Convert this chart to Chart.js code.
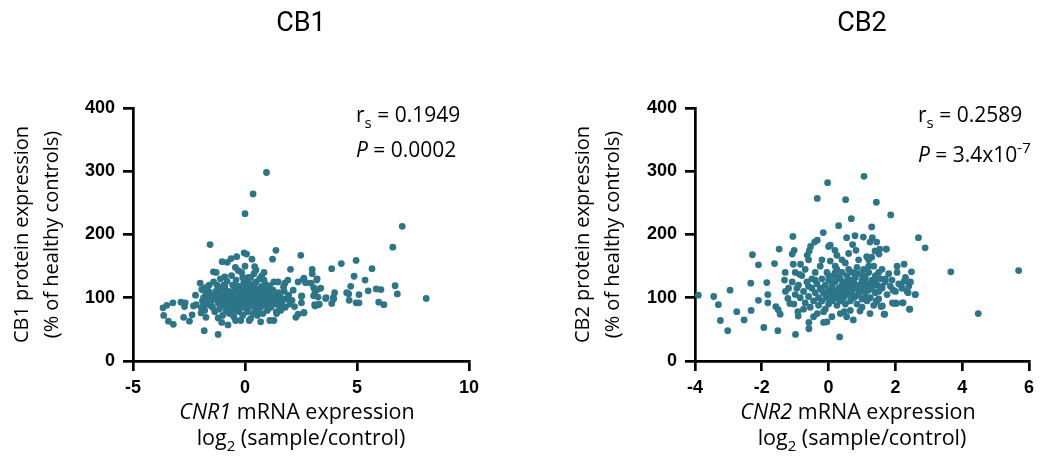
<!DOCTYPE html>
<html>
<head>
<meta charset="utf-8">
<script src="https://cdn.jsdelivr.net/npm/chart.js@4.4.1/dist/chart.umd.min.js"></script>
<style>
  html, body { margin: 0; padding: 0; background: #fff; }
  #wrap { position: relative; width: 1040px; height: 465px; }
  .panel { position: absolute; top: 0; height: 465px; }
</style>
</head>
<body>
<div id="wrap">
  <div class="panel" style="left:0;width:540px"><canvas id="cb1"></canvas></div>
  <div class="panel" style="left:561px;width:479px"><canvas id="cb2"></canvas></div>
</div>
<script>
// Values (log2 mRNA ratio vs protein % of controls).
const CB1_MRNA = [
  0.96, 0.36, 0, -1.56, 7.02, 6.6, 8.09, 1.38, 2.49, 1.23, 2.03, 3.0, 3.87, 4.3, 4.96, 5.67, 3.0, 4.87, 5.36, 4.72,
  5.5, 5.86, 6.07, 6.7, 6.8, 5.09, 4.96, 5.09, 4.63, 4.65, 5.97, 6.2, 4.0, 3.87, 3.96, 3.6, 3.26, 3.23, 3.2, 2.94,
  3.07, 3.11, 3.28, 2.52, 2.52, 2.21, 2.27, 2.37, 2.63, 1.91, 2.37, 2.6, 2.7, 1.48, 1.78, 1.72,
  -3.66, -3.49, -3.22, -3.63, -3.42, -3.2, -2.86, -2.7, -2.67, -2.74, -2.48, -2.36, -2.3, -2.18, -2.21, -2.0, -1.93, -1.82, -1.2, -1.96,
  -1.74, -1.85, -1.68, -1.59, -1.04, -0.76, -1.41, -1.29, -1.02, -0.79, -0.62, -0.37, -0.04, 0.07, 0.31, 0.43, 0.49, -0.43, -0.3, -0.9,
  0.74, 1.11, 1.29, -0.42, -0.19, 0.19, 0.25, 0.7, 1.11, 1.29, 1.41, 1.59, 1.7,
  2.63, 3.22, 2.72, 3.38, 3.13, 3.06, 3.62, 2.53, 3.13, 3.32, 2.63, 3.94, 4.54,
  -1.5, -1.4, -1.45, -1.3, -1.35, -1.2, -1.25, -1.1, -1.15, -1.05, -1.0, -1.0, -1.1, -1.2,
  -0.95, -0.9, -0.9, -0.85, -0.8, -0.8, -0.75, -0.7, -0.7, -0.65, -0.6, -0.6, -0.55, -0.55, -0.5, -0.5, -0.45, -0.45,
  -0.4, -0.4, -0.35, -0.3, -0.3, -0.25, -0.25, -0.2, -0.2, -0.15, -0.15, -0.1, -0.1, -0.05, -0.05, 0, 0, 0, 0,
  0.05, 0.05, 0.1, 0.1, 0.15, 0.15, 0.2, 0.2, 0.25, 0.25, 0.3, 0.3, 0.35, 0.35, 0.4, 0.4, 0.45, 0.45, 0.5, 0.5,
  0.55, 0.55, 0.6, 0.6, 0.65, 0.65, 0.7, 0.7, 0.75, 0.75, 0.8, 0.8, 0.85, 0.85, 0.9, 0.9, 0.95, 0.95, 1.0, 1.0, 1.0,
  1.05, 1.1, 1.15, 1.2, 1.25, 1.3, 1.35, 1.4, 1.45, 1.5, 1.5,
  1.6, 1.65, 1.75, 1.8, 1.85, 1.95, 2.0, 2.1, 2.15,
  -1.9, -1.85, -1.8, -1.75, -1.7, -1.65, -1.6, -1.55, -1.95,
  -1.8, -1.6, -1.4, -1.3, -1.2, -1.1, -0.9, -0.8, -0.7, -0.6, -0.5, -0.4, -0.3, -0.2, -0.1, 0.0, 0.1, 0.2, 0.3, 0.4,
  0.5, 0.6, 0.7, 0.8, 0.9, 1.0, 1.1, 1.2, 1.3, 1.4, -0.35, 0.15, 0.55, 0.85, -0.65, 0.45, 1.15, -0.95, 0.25, 0.65
];
const CB1_PROTEIN = [
  298, 264, 233, 184, 213, 180, 99, 175, 167, 161, 145, 145, 146, 154, 159, 146, 138, 134, 128, 118,
  111, 114, 113, 119, 106, 105, 92, 92, 106, 96, 93, 89, 108, 91, 98, 99, 101, 113, 128, 123,
  116, 89, 89, 102, 92, 86, 69, 74, 76, 128, 125, 129, 124, 125, 123, 117,
  84, 88, 92, 72, 63, 58, 93, 86, 92, 69, 63, 73, 87, 89, 104, 123, 113, 48, 42, 76,
  69, 88, 117, 109, 61, 57, 141, 140, 157, 156, 162, 165, 171, 169, 161, 149, 144, 148, 143, 133,
  134, 119, 125, 64, 64, 64, 67, 62, 64, 64, 75, 80, 85,
  131, 130, 124, 115, 110, 103, 100, 103, 87, 90, 77, 100, 108,
  95, 103, 85, 110, 78, 92, 120, 100, 82, 115, 88, 72, 130, 68,
  105, 95, 118, 80, 100, 126, 90, 110, 75, 98, 135, 85, 104, 120, 92, 70, 112, 82,
  100, 128, 88, 108, 95, 78, 118, 102, 86, 140, 93, 110, 72, 98, 125, 105, 84, 90, 150,
  100, 115, 92, 78, 108, 132, 97, 86, 120, 103, 90, 110, 75, 98, 138, 105, 88, 115, 95, 125,
  102, 80, 112, 90, 130, 98, 85, 108, 118, 95, 100, 75, 110, 140, 92, 122, 88, 104, 98, 115, 80,
  108, 95, 85, 100, 112, 90, 104, 78, 96, 108, 88,
  100, 92, 110, 85, 98, 104, 90, 96, 112,
  95, 100, 80, 108, 90, 98, 120, 88, 84,
  115, 105, 125, 98, 108, 90, 112, 88, 102, 95, 78, 118, 105, 92, 132, 115, 82, 110, 100, 122,
  85, 94, 115, 88, 106, 92, 118, 100, 108, 93, 96, 122, 72, 128, 105, 80, 96, 120, 132, 108
];

const CB2_MRNA = [
  1.06, -0.03, -0.34, 0.51, 1.43, 1.86, 0.68, 0.3, 1.29, -0.16, -1.07, 2.69, 2.89, 3.66, 5.69, 4.48,
  -3.9, -3.44, -3.3, -2.95, -3.24, -3.02, -2.75, -2.53, -2.32, -2.33, -2.28, -2.1, -2.1, -1.94, -1.85, -1.82, -1.82, -1.62, -1.48, -1.58,
  -1.51, -1.45, -1.52, -1.32, -1.29, -1.22, -1.16, -1.04, -1.09, -1.03, -0.99, -0.59, -0.59, -0.92, -0.91, 0.33, -0.54, -0.42, -0.34, -0.64,
  -0.58, 0, 0.05, 0.19, 0.25, 0.54, 0.79, 1.04, 1.31, 1.24, 1.44, 0.72, 0.82, 1.53, 1.73, 1.39, 1.51, 1.14, 1.29, 2.26,
  2.48, 2.05, 2.59, 2.43, 2.38, 2.23, 2.03, 1.95, 1.68, 1.61, 1.44, 2.31, 2.16, 1.93, 1.24, 0.94, 0.74, 0.54, 0.47, -0.15,
  -0.05, -0.34, -1.09, -0.84, -1.06, -0.87, 2.6, 2.42, 2.26, 2.35, 2.21, 2.01, 1.91, 1.66, 1.57, 1.43, 1.72,
  -0.9, -0.85, -0.8, -0.75, -0.7, -0.7, -0.65, -0.6, -0.55, -0.5, -0.5, -0.45, -0.4, -0.4, -0.35, -0.3, -0.3, -0.25, -0.25, -0.2,
  -0.2, -0.15, -0.1, -0.1, -0.05, -0.05, 0, 0, 0, 0.05, 0.05, 0.1, 0.1, 0.15, 0.15, 0.2, 0.2, 0.25, 0.25, 0.3,
  0.3, 0.35, 0.35, 0.4, 0.4, 0.45, 0.45, 0.5, 0.5, 0.5, 0.55, 0.55, 0.6, 0.6, 0.65, 0.65, 0.7, 0.7, 0.75, 0.75,
  0.8, 0.8, 0.85, 0.85, 0.9, 0.9, 0.95, 0.95, 1.0, 1.0, 1.05, 1.05, 1.1, 1.1, 1.15, 1.15, 1.2, 1.2, 1.25, 1.3,
  1.3, 1.35, 1.4, 1.4, 1.45, 1.5, 1.55, 1.6, 1.6, 1.7, 1.75, 1.8, 1.85, 1.9, 2.0, 2.05, 2.1, 2.2, 2.3, 2.4,
  2.45, -1.0, -1.0, -0.95, -1.2, -1.3, -0.6, 0.2, 0.4, 0.9, 1.2, -0.2, 0.6, -0.15, 0.35, 0.1, 0.65, -0.45, 1.0, 1.35,
  -0.75,
  0.1, 0.3, 0.5, 0.7, 0.9, 1.1, 1.3, 1.5, 1.7, 0.2, 0.4, 0.6, 0.8, 1.0, 1.2, 1.4, -0.2, -0.4, -0.6, 0.0,
  0.5, 1.0, 1.5, 0.3, 0.8, 1.3, -0.1, 0.6, 1.1, 1.6
];
const CB2_PROTEIN = [
  292, 282, 257, 255, 251, 231, 225, 214, 212, 203, 197, 195, 179, 141, 143, 75,
  104, 102, 89, 112, 64, 48, 78, 65, 80, 123, 168, 152, 96, 53, 124, 105, 92, 154, 177, 86,
  81, 74, 48, 128, 110, 99, 91, 90, 169, 175, 42, 51, 61, 78, 71, 38, 181, 188, 191, 167,
  174, 181, 183, 175, 167, 195, 198, 196, 195, 188, 188, 184, 175, 177, 177, 174, 169, 165, 164, 153,
  141, 150, 105, 82, 108, 92, 91, 91, 74, 87, 94, 127, 120, 112, 75, 79, 65, 70, 78, 61,
  62, 75, 125, 153, 153, 137, 105, 82, 126, 110, 92, 92, 92, 74, 86, 95, 177,
  120, 100, 135, 110, 92, 145, 125, 102, 85, 130, 115, 95, 140, 108, 122, 88, 100, 150, 115, 130,
  95, 108, 120, 82, 140, 100, 112, 128, 90, 105, 158, 118, 95, 135, 110, 100, 125, 88, 145, 115,
  105, 130, 95, 120, 140, 110, 100, 125, 155, 90, 115, 135, 105, 128, 118, 95, 140, 110, 125, 100,
  132, 115, 90, 148, 120, 105, 138, 112, 125, 98, 145, 118, 108, 130, 95, 122, 140, 112, 100, 128,
  118, 150, 108, 135, 120, 98, 130, 115, 145, 125, 105, 138, 118, 128, 110, 140, 122, 115, 132, 118,
  125, 105, 140, 115, 115, 140, 160, 150, 160, 160, 160, 160, 170, 78, 75, 70, 80, 70, 85, 88,
  82,
  125, 132, 118, 128, 112, 135, 122, 110, 130, 140, 108, 145, 102, 118, 150, 128, 112, 128, 118, 135,
  110, 128, 140, 98, 138, 115, 105, 122, 100, 118
];

const Y_TICKS = [0, 100, 200, 300, 400];
const CB1_X_TICKS = [-5, 0, 5, 10];
const CB2_X_TICKS = [-4, -2, 0, 2, 4, 6];

const BODY_FONT = '"Open Sans", "Noto Sans", sans-serif';
const TICK_FONT = { family: '"Liberation Sans", Arial, sans-serif', size: 18, weight: 'bold' };
const DOT = '#2d7588';

// draw a line made of runs: [text, style] with style '', 'i', 'sub', 'sup'
function drawRuns(ctx, runs, x, y, align, size) {
  const fontFor = st => {
    if (st === 'i') return `italic ${size}px ${BODY_FONT}`;
    if (st === 'sub' || st === 'sup') return `${Math.round(size * 0.72)}px ${BODY_FONT}`;
    return `${size}px ${BODY_FONT}`;
  };
  let total = 0;
  for (const [t, st] of runs) { ctx.font = fontFor(st); total += ctx.measureText(t).width; }
  let cx = align === 'center' ? x - total / 2 : x;
  for (const [t, st] of runs) {
    ctx.font = fontFor(st);
    const dy = st === 'sub' ? size * 0.28 : st === 'sup' ? -size * 0.42 : 0;
    ctx.fillText(t, cx, y + dy);
    cx += ctx.measureText(t).width;
  }
}

const panelText = {
  id: 'panelText',
  afterDraw(chart, args, o) {
    const { ctx, chartArea: a } = chart;
    ctx.save();
    ctx.fillStyle = '#000';
    ctx.textAlign = 'left';
    ctx.textBaseline = 'alphabetic';
    const mid = (a.left + a.right) / 2;
    drawRuns(ctx, o.xTitle[0], mid - 4, 419, 'center', 21.5);
    drawRuns(ctx, o.xTitle[1], mid, 445, 'center', 21.5);
    drawRuns(ctx, o.stats[0], a.left + 223, 122, 'left', 21);
    drawRuns(ctx, o.stats[1], a.left + 223, o.line2Y, 'left', 21);
    ctx.restore();
  }
};

function axisBase(ticks, fit) {
  return {
    type: 'linear',
    min: ticks[0],
    max: ticks[ticks.length - 1],
    afterBuildTicks: s => { s.ticks = ticks.map(v => ({ value: v })); },
    afterFit: fit,
    grid: { drawOnChartArea: false, drawTicks: true, tickLength: 10, color: '#000', lineWidth: 2.7 },
    border: { display: true, color: '#000', width: 2.7 },
    ticks: { color: '#000', font: TICK_FONT, padding: 6, maxRotation: 0, autoSkip: false }
  };
}

function makePanel(id, title, xs, ys, xTicks, yAxisWidth, rightPad, yTitle, xTitle, stats, line2Y) {
  const y = axisBase(Y_TICKS, s => { s.width = yAxisWidth; });
  y.ticks.padding = 8;
  y.title = {
    display: true, text: yTitle, color: '#000',
    font: { family: BODY_FONT, size: 20, lineHeight: 1.5 },
    padding: { top: 7, bottom: 0 }
  };
  return new Chart(document.getElementById(id), {
    type: 'scatter',
    data: {
      datasets: [{
        data: xs.map((v, i) => ({ x: v, y: ys[i] })),
        backgroundColor: DOT, borderWidth: 0, pointRadius: 3.4, pointHoverRadius: 3.4
      }]
    },
    options: {
      responsive: true,
      maintainAspectRatio: false,
      animation: false,
      clip: false,
      layout: { padding: { left: 0, right: rightPad, top: 0, bottom: 0 } },
      plugins: {
        legend: { display: false },
        tooltip: { enabled: false },
        title: {
          display: true, text: title, color: '#000', fullSize: false,
          font: { family: 'Roboto, sans-serif', size: 27, weight: 'normal', lineHeight: 1.2 },
          padding: { top: 7.8, bottom: 67.8 }
        },
        panelText: { xTitle, stats, line2Y }
      },
      scales: {
        x: axisBase(xTicks, s => { s.height = 104; }),
        y
      }
    },
    plugins: [panelText]
  });
}

makePanel('cb1', 'CB1', CB1_MRNA, CB1_PROTEIN, CB1_X_TICKS, 133, 71,
  ['CB1 protein expression', '(% of healthy controls)'],
  [[['CNR1', 'i'], [' mRNA expression', '']], [['log', ''], ['2', 'sub'], [' (sample/control)', '']]],
  [[['r', ''], ['s', 'sub'], [' = 0.1949', '']], [['P', 'i'], [' = 0.0002', '']]],
  157);

makePanel('cb2', 'CB2', CB2_MRNA, CB2_PROTEIN, CB2_X_TICKS, 134, 9,
  ['CB2 protein expression', '(% of healthy controls)'],
  [[['CNR2', 'i'], [' mRNA expression', '']], [['log', ''], ['2', 'sub'], [' (sample/control)', '']]],
  [[['r', ''], ['s', 'sub'], [' = 0.2589', '']], [['P', 'i'], [' = 3.4x10', ''], ['-7', 'sup']]],
  162);
</script>
</body>
</html>
